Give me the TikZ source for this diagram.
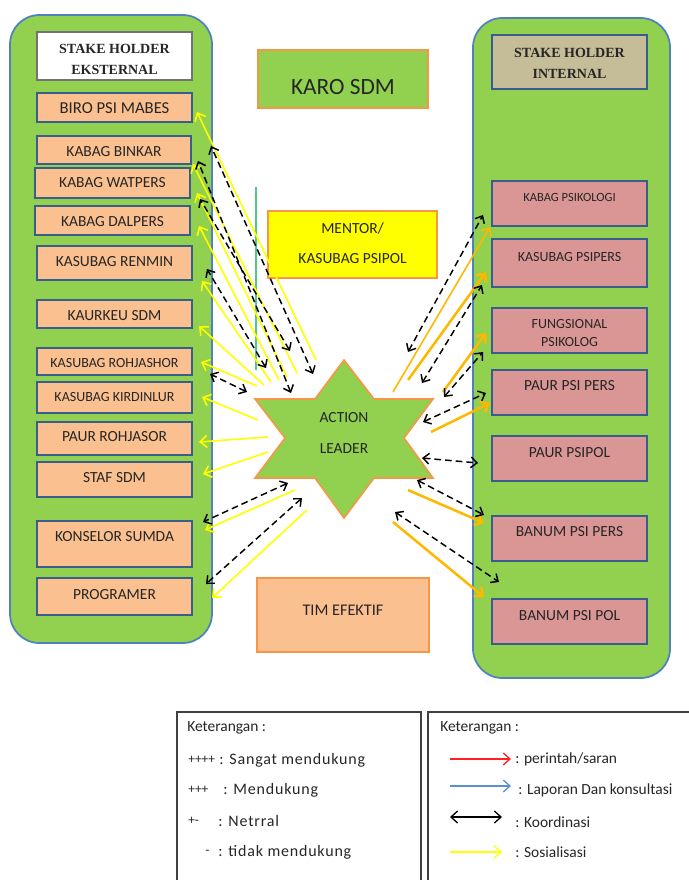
\documentclass[tikz,border=0pt]{standalone}
\usepackage{fontspec}
\setmainfont{Carlito}
\newfontfamily\hdrfont{Liberation Serif}
\newfontfamily\legfont[LetterSpace=5]{Carlito}
\usetikzlibrary{arrows.meta,fit}
\definecolor{grn}{HTML}{92D050}
\definecolor{bigborder}{HTML}{4F81BD}
\definecolor{boxborder}{HTML}{3A5E8C}
\definecolor{lfill}{HTML}{FAC090}
\definecolor{rfill}{HTML}{D99694}
\definecolor{orng}{HTML}{F79646}
\definecolor{tanfill}{HTML}{C4BD97}
\definecolor{goldc}{HTML}{FFB800}
\definecolor{ylw}{HTML}{FFFF00}
\definecolor{txt}{HTML}{262626}
\definecolor{legred}{HTML}{FF2020}
\definecolor{legblue}{HTML}{5B8FD0}
\begin{document}
\begin{tikzpicture}[x=0.75pt,y=-0.75pt,
  big/.style={draw=bigborder,fill=grn,line width=1.3pt,rounded corners=22pt},
  boxbase/.style={draw=boxborder,line width=1.6pt,inner sep=0pt},
  lbox/.style={boxbase,fill=lfill},
  rbox/.style={boxbase,fill=rfill},
  cbox/.style={draw=orng,line width=1.2pt,inner sep=0pt},
  lbl/.style={text=txt,inner sep=0pt,font=\fontsize{11.6}{13}\selectfont},
  slbl/.style={text=txt,inner sep=0pt,font=\fontsize{10.5}{12}\selectfont},
  hdr/.style={text=txt,inner sep=0pt,font=\hdrfont\bfseries\fontsize{10.5}{12}\selectfont},
  leg/.style={text=txt,inner sep=0pt,anchor=west,font=\fontsize{11.6}{13}\selectfont},
  legw/.style={text=txt,inner sep=0pt,anchor=west,font=\legfont\fontsize{12}{14}\selectfont},
  plus/.style={text=txt,inner sep=0pt,anchor=west,font=\fontsize{10}{12}\selectfont},
  sos/.style={ylw,line width=1.2pt,-{Straight Barb[length=5pt,width=9pt]}},
  lap/.style={goldc,line width=1.9pt,-{Straight Barb[length=5pt,width=9pt]}},
  lapthin/.style={goldc,line width=1.2pt,-{Straight Barb[length=5pt,width=9pt]}},
  koor/.style={black,line width=1.1pt,dash pattern=on 5pt off 3pt,
    {Straight Barb[length=4.5pt,width=8pt]}-{Straight Barb[length=4.5pt,width=8pt]}}
]
\useasboundingbox (0,0) rectangle (688,880);

% big containers
\draw[big] (10,15) rectangle (212,643);
\draw[big] (473,18) rectangle (670,678);

% headers
\node[draw=black!55,fill=white,line width=1pt,inner sep=0pt,fit={(37,32) (192,80)}] (exthdr) {};
\node[hdr] at (114.5,49) {STAKE HOLDER};
\node[hdr] at (114.5,70) {EKSTERNAL};
\node[boxbase,fill=tanfill,fit={(492,35) (647,89)}] (inthdr) {};
\node[hdr] at (569.5,53) {STAKE HOLDER};
\node[hdr] at (569.5,74) {INTERNAL};

% left boxes
\node[lbox,fit={(37,93) (192,122)}] (biro) {};
\node[text=txt,inner sep=0pt,font=\fontsize{12.5}{14}\selectfont] at (114.5,108) {BIRO PSI MABES};
\node[lbox,fit={(37,136) (191,164)}] (binkar) {};
\node[lbl] at (114,152) {KABAG BINKAR};
\node[lbox,fit={(35,168) (190,198)}] (watpers) {};
\node[lbl] at (112.5,183) {KABAG WATPERS};
\node[lbox,fit={(35,206) (190,235)}] (dalpers) {};
\node[lbl] at (112.5,222) {KABAG DALPERS};
\node[lbox,fit={(37,246) (192,280)}] (renmin) {};
\node[lbl] at (114.5,262) {KASUBAG RENMIN};
\node[lbox,fit={(37,300) (192,328)}] (kaurkeu) {};
\node[lbl] at (114.5,316) {KAURKEU SDM};
\node[lbox,fit={(37,348) (192,375)}] (rohjashor) {};
\node[slbl] at (114.5,363) {KASUBAG ROHJASHOR};
\node[lbox,fit={(37,382) (192,413)}] (kirdinlur) {};
\node[slbl] at (114.5,397) {KASUBAG KIRDINLUR};
\node[lbox,fit={(37,422) (192,455)}] (paurroh) {};
\node[lbl] at (114.5,437) {PAUR ROHJASOR};
\node[lbox,fit={(37,462) (192,497)}] (staf) {};
\node[lbl] at (114.5,478) {STAF SDM};
\node[lbox,fit={(37,521) (192,567)}] (konselor) {};
\node[lbl] at (114.5,537) {KONSELOR SUMDA};
\node[lbox,fit={(37,578) (192,615)}] (programer) {};
\node[lbl] at (114.5,595) {PROGRAMER};

% right boxes
\node[rbox,fit={(492,181) (647,226)}] (psikologi) {};
\node[text=txt,inner sep=0pt,font=\fontsize{9.4}{11}\selectfont] at (569.5,197) {KABAG PSIKOLOGI};
\node[rbox,fit={(492,239) (647,287)}] (psipers) {};
\node[slbl] at (569.5,257) {KASUBAG PSIPERS};
\node[rbox,fit={(492,308) (647,353)}] (fungsional) {};
\node[slbl] at (569.5,324) {FUNGSIONAL};
\node[slbl] at (569.5,342) {PSIKOLOG};
\node[rbox,fit={(492,370) (647,415)}] (paurpsipers) {};
\node[lbl] at (569.5,386) {PAUR PSI PERS};
\node[rbox,fit={(492,436) (647,481)}] (paurpsipol) {};
\node[lbl] at (569.5,453) {PAUR PSIPOL};
\node[rbox,fit={(492,516) (647,561)}] (banumpers) {};
\node[lbl] at (569.5,532) {BANUM PSI PERS};
\node[rbox,fit={(492,599) (647,644)}] (banumpol) {};
\node[lbl] at (569.5,616) {BANUM PSI POL};

% centre boxes
\node[cbox,fill=grn,fit={(258,50) (428,108)}] (karo) {};
\node[text=txt,inner sep=0pt,font=\fontsize{17.5}{20}\selectfont] at (343,87) {KARO SDM};
\node[cbox,fill=ylw,fit={(268,211) (437,278)}] (mentor) {};
\node[lbl] at (352.5,228) {MENTOR/};
\node[lbl] at (352.5,259) {KASUBAG PSIPOL};
\node[cbox,fill=lfill,fit={(257,578) (429,652)}] (tim) {};
\node[text=txt,inner sep=0pt,font=\fontsize{12.2}{14}\selectfont] at (343,610) {TIM EFEKTIF};

% thin green line
\coordinate (gl1) at (256,187);
\coordinate (gl2) at (256,370);
\draw[color={rgb,255:red,80;green,200;blue,140},line width=0.8pt] (gl1) -- (gl2);

% star
\draw[fill=grn,draw=orng,line width=1.2pt,line join=miter]
  (344,360) -- (315,399) -- (255,399) -- (285,438) -- (255,478) -- (315,478)
  -- (344,518) -- (374,478) -- (433,478) -- (404,438) -- (433,399) -- (374,399) -- cycle;
\node[lbl] (leader) at (344,433) {};
\node[lbl] at (344,418) {ACTION};
\node[lbl] at (344,449) {LEADER};

% yellow (sosialisasi) arrows, left
\foreach \xa/\ya/\xb/\yb [count=\i] in {
  316/360/197/112, 297/373/193/164, 287/377/197/193, 279/380/199/226,
  271/382/202/281, 264/385/199/326, 257/386/201/362, 258/420/202/397,
  268/437/199/442, 268/452/203/474, 295/490/205/530, 307/510/212/598}{
  \coordinate (ys\i) at (\xa,\ya);
  \coordinate (ye\i) at (\xb,\yb);
  \draw[sos] (ys\i) -- (ye\i);
}

% koordinasi, left
\foreach \xa/\ya/\xb/\yb [count=\i] in {
  313/374/211/146, 291/393/198/161, 290/351/200/199, 266/368/207/269,
  247/392/210/374, 288/483/203/522, 302/498/206/584}{
  \coordinate (ks\i) at (\xa,\ya);
  \coordinate (ke\i) at (\xb,\yb);
  \draw[koor] (ks\i) -- (ke\i);
}

% gold arrows, right
\coordinate (gs1) at (393,392); \coordinate (ge1) at (490,227);
\draw[lapthin] (gs1) -- (ge1);
\foreach \xa/\ya/\xb/\yb [count=\i] in {
  408/380/486/272, 443/392/486/333, 431/432/490/403,
  408/490/484/523, 393/522/484/597}{
  \coordinate (hs\i) at (\xa,\ya);
  \coordinate (he\i) at (\xb,\yb);
  \draw[lap] (hs\i) -- (he\i);
}

% koordinasi, right
\foreach \xa/\ya/\xb/\yb [count=\i] in {
  408/352/483/215, 422/383/482/285, 444/397/483/352, 423/422/486/393,
  422/458/478/463, 417/480/484/515, 395/512/499/582}{
  \coordinate (rs\i) at (\xa,\ya);
  \coordinate (re\i) at (\xb,\yb);
  \draw[koor] (rs\i) -- (re\i);
}

% legends
\draw[black!75,line width=0.9pt] (177,882) -- (177,712) -- (421,712) -- (421,882);
\draw[black!75,line width=0.9pt] (428,882) -- (428,712) -- (690,712);

\node[leg] at (187,728) {Keterangan :};
\node[plus] at (188,760) {++++};
\node[legw] at (219,760) {: Sangat mendukung};
\node[plus] at (188,790) {+++};
\node[legw] at (223,790) {: Mendukung};
\node[plus] at (188,821) {+-};
\node[legw] at (218,821) {: Netrral};
\node[plus] at (205,852) {-};
\node[legw] at (218,852) {: tidak mendukung};

\node[leg] at (440,728) {Keterangan :};
\coordinate (la1) at (450,759); \coordinate (lb1) at (511,759);
\draw[legred,line width=1pt,-{Straight Barb[length=5pt,width=9pt]}] (la1) -- (lb1);
\node[leg] at (515,759) {: perintah/saran};
\coordinate (la2) at (450,786); \coordinate (lb2) at (511,786);
\draw[legblue,line width=1pt,-{Straight Barb[length=5pt,width=9pt]}] (la2) -- (lb2);
\node[leg] at (518,790) {: Laporan Dan konsultasi};
\coordinate (la3) at (450,817); \coordinate (lb3) at (502,817);
\draw[black,line width=1pt,{Straight Barb[length=5pt,width=9pt]}-{Straight Barb[length=5pt,width=9pt]}] (la3) -- (lb3);
\node[leg] at (515,822) {: Koordinasi};
\coordinate (la4) at (450,852); \coordinate (lb4) at (502,852);
\draw[ylw,line width=1pt,-{Straight Barb[length=5pt,width=9pt]}] (la4) -- (lb4);
\node[leg] at (515,852) {: Sosialisasi};
\end{tikzpicture}
\end{document}
